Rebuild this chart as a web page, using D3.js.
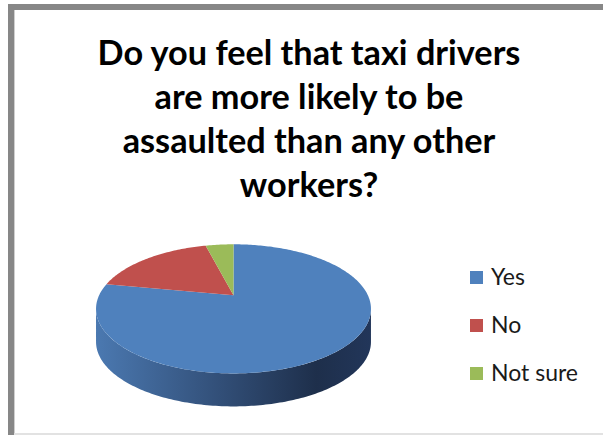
<!DOCTYPE html>
<html>
<head>
<meta charset="utf-8">
<script src="https://cdn.jsdelivr.net/npm/d3@7/dist/d3.min.js"></script>
<style>
  html, body { margin: 0; padding: 0; background: #fff; }
  svg { display: block; }
</style>
</head>
<body>
<svg id="chart" width="603" height="435"></svg>
<script>
// Survey answers
const categories = ["Yes", "No", "Not sure"];
const values = [78, 18, 4];
const colors = ["#4F81BD", "#C0504D", "#9BBB59"];
const titleLines = [
  "Do you feel that taxi drivers",
  "are more likely to be",
  "assaulted than any other",
  "workers?"
];

const svg = d3.select("#chart");
const W = 603, H = 435;

// Chart frame (thick grey border, partly cropped on the right)
svg.append("rect").attr("x", 0).attr("y", 0).attr("width", W).attr("height", H).attr("fill", "#fff");
svg.append("rect").attr("x", 8).attr("y", 4).attr("width", W - 8).attr("height", 6).attr("fill", "#878787");
svg.append("rect").attr("x", 8).attr("y", 4).attr("width", 6).attr("height", H - 4).attr("fill", "#878787");
svg.append("rect").attr("x", 14).attr("y", 10).attr("width", 1).attr("height", H - 10).attr("fill", "#cfcfcf");
svg.append("rect").attr("x", 14).attr("y", 433).attr("width", W - 14).attr("height", 2).attr("fill", "#e2e2e2");

// Title
const title = svg.append("text")
  .attr("text-anchor", "middle")
  .attr("font-family", "Lato, 'Open Sans', sans-serif")
  .attr("font-weight", "bold")
  .attr("fill", "#000");
const titleY = [65, 109.3, 153.3, 196.7];
titleLines.forEach((t, i) => {
  title.append("tspan").attr("x", 309).attr("y", titleY[i]).text(t);
});
// size the title so the first line spans its target width
title.attr("font-size", 32);
const w0 = title.select("tspan").node().getComputedTextLength();
title.attr("font-size", 32 * 423 / w0);

// 3D pie with perspective: angle measured clockwise from the far (top) point
const cx = 233.5, cy = 295.3, R = 134.4, Hy = 61.7, k = 0.21, depth = 33;
function proj(theta, dz) {
  const u = Math.sin(theta), v = Math.cos(theta);
  const s = 1 / (1 + k * v);
  return [cx + R * u * s, cy - Hy * v * s + dz];
}
function arcPts(a0, a1, dz) {
  const n = Math.max(2, Math.ceil(Math.abs(a1 - a0) / (Math.PI / 180)));
  return d3.range(n + 1).map(i => proj(a0 + (a1 - a0) * i / n, dz));
}

const pie = d3.pie().sort(null).startAngle(0).endAngle(2 * Math.PI);
const arcs = pie(values);

// Side gradient (lit from the left)
const defs = svg.append("defs");
const grad = defs.append("linearGradient")
  .attr("id", "sideGrad")
  .attr("gradientUnits", "userSpaceOnUse")
  .attr("x1", cx - R * 1.03).attr("x2", cx + R * 1.03)
  .attr("y1", 0).attr("y2", 0);
[[0, "#4b79b1"], [0.45, "#324f78"], [0.8, "#1e2f4b"], [1, "#22365a"]].forEach(([o, c]) => {
  grad.append("stop").attr("offset", o).attr("stop-color", c);
});

// Visible portion of the rim lies between the silhouette angles
const thR = Math.acos(-k), thL = 2 * Math.PI - Math.acos(-k);
const line = d3.line();
const side = svg.append("g");
arcs.forEach((a, i) => {
  const t0 = Math.max(a.startAngle, thR), t1 = Math.min(a.endAngle, thL);
  if (t1 <= t0) return;
  const top = arcPts(t0, t1, 0);
  const bottom = arcPts(t1, t0, depth);
  side.append("path")
    .attr("d", line(top.concat(bottom)) + "Z")
    .attr("fill", i === 0 ? "url(#sideGrad)" : d3.color(colors[i]).darker(1.2));
});

// Top face slices
const topG = svg.append("g");
arcs.forEach((a, i) => {
  const pts = [[cx, cy]].concat(arcPts(a.startAngle, a.endAngle, 0));
  topG.append("path")
    .attr("d", line(pts) + "Z")
    .attr("fill", colors[i]);
});

// Legend
const legend = svg.append("g");
const legendY = d3.scalePoint().domain(categories).range([285, 381]);
categories.forEach((c, i) => {
  const y = legendY(c);
  legend.append("rect")
    .attr("x", 470).attr("y", y - 14).attr("width", 13).attr("height", 13)
    .attr("fill", colors[i]);
  legend.append("text")
    .attr("x", 491).attr("y", y)
    .attr("font-family", "Lato, 'Open Sans', sans-serif")
    .attr("font-size", 23)
    .attr("fill", "#1a1a1a")
    .text(c);
});
</script>
</body>
</html>
